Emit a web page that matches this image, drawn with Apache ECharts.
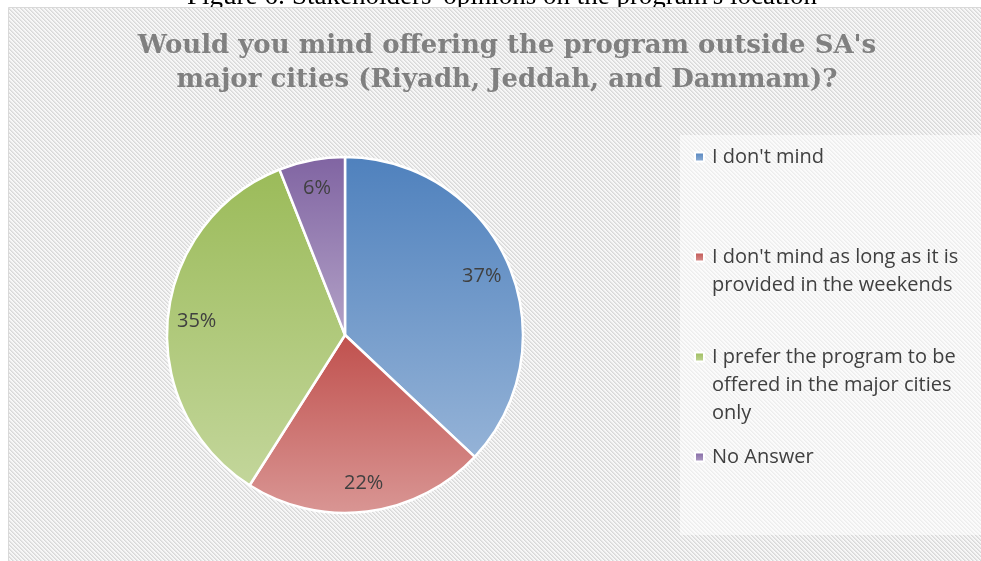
<!DOCTYPE html>
<html lang="en">
<head>
    <meta charset="UTF-8">
    <title>Program location</title>
    <style>
        html, body {
            margin: 0;
            padding: 0;
            background: #ffffff;
        }

        #chart {
            width: 981px;
            height: 561px;
        }
    </style>
    <script src="https://cdn.jsdelivr.net/npm/echarts@6/dist/echarts.min.js"></script>
</head>
<body>
    <div id="chart"></div>

    <script>
        // data
        var categories = [
            "I don't mind",
            "I don't mind as long as it is provided in the weekends",
            "I prefer the program to be offered in the major cities only",
            "No Answer"
        ];
        var shares = [37, 22, 35, 6];
        var topColors = ['#4f81bd', '#c0504d', '#9bbb59', '#8064a2'];
        var bottomColors = ['#95b3d7', '#d99694', '#c3d69b', '#b3a2c7'];
        // how many lines each legend entry wraps to
        var legendLines = [1, 2, 3, 1];

        var caption = "Figure 6: Stakeholders' opinions on the program's location";
        var titleText = "Would you mind offering the program outside SA's\nmajor cities (Riyadh, Jeddah, and Dammam)?";

        // small tile for the diagonal hatch fill
        function hatchTile() {
            var c = document.createElement('canvas');
            c.width = 4;
            c.height = 4;
            var ctx = c.getContext('2d');
            var shades = ['#d8d8d8', '#e5e5e5', '#f4f4f4', '#f9f9f9'];
            for (var y = 0; y < 4; y++) {
                for (var x = 0; x < 4; x++) {
                    var k = ((x - y) % 4 + 4) % 4;
                    ctx.fillStyle = shades[k];
                    ctx.fillRect(x, y, 1, 1);
                }
            }
            return c;
        }

        // pad every legend entry to the same 5-line block with its first line in the middle,
        // so the square marker sits next to the first line like in the original
        function legendLabel(name) {
            var n = legendLines[categories.indexOf(name)];
            var tail = '';
            for (var i = n; i < 3; i++) tail += '\n ';
            return ' \n \n' + name + tail;
        }

        var myChart = echarts.init(document.getElementById('chart'));

        var pieData = categories.map(function (name, i) {
            return {
                name: name,
                value: shares[i],
                itemStyle: {
                    color: new echarts.graphic.LinearGradient(0, 0, 0, 1, [
                        { offset: 0, color: topColors[i] },
                        { offset: 1, color: bottomColors[i] }
                    ])
                }
            };
        });

        var labelData = categories.map(function (name, i) {
            return { name: name, value: shares[i] };
        });

        var option = {
            backgroundColor: '#ffffff',
            animation: false,
            graphic: [
                {
                    type: 'text',
                    x: 502,
                    y: 10,
                    z: 0,
                    silent: true,
                    style: {
                        text: caption,
                        font: '27px "Liberation Serif"',
                        fill: '#000000',
                        align: 'center',
                        verticalAlign: 'bottom'
                    }
                },
                {
                    type: 'rect',
                    z: 1,
                    silent: true,
                    shape: { x: 8.5, y: 7.5, width: 990, height: 570 },
                    style: {
                        fill: { image: hatchTile(), repeat: 'repeat' },
                        stroke: '#d9d9d9',
                        lineWidth: 1
                    }
                },
                {
                    type: 'rect',
                    z: 1,
                    silent: true,
                    shape: { x: 680, y: 135, width: 320, height: 400 },
                    style: { fill: 'rgba(255,255,255,0.55)' }
                }
            ],
            title: {
                text: titleText,
                left: 502,
                textAlign: 'center',
                top: 24,
                textStyle: {
                    fontFamily: 'DejaVu Serif',
                    fontWeight: 'bold',
                    fontSize: 26,
                    lineHeight: 34,
                    color: '#808080'
                }
            },
            legend: {
                orient: 'vertical',
                left: 694,
                top: 87,
                padding: 0,
                itemGap: -40,
                itemWidth: 9,
                itemHeight: 9,
                icon: 'rect',
                selectedMode: false,
                formatter: legendLabel,
                textStyle: {
                    fontFamily: 'Open Sans',
                    fontSize: 20,
                    lineHeight: 28,
                    color: '#404040',
                    width: 255,
                    overflow: 'break',
                    padding: [0, 0, 0, 3]
                }
            },
            series: [
                {
                    type: 'pie',
                    center: [345, 335],
                    radius: [0, 178],
                    startAngle: 90,
                    clockwise: true,
                    silent: true,
                    label: { show: false },
                    labelLine: { show: false },
                    itemStyle: { borderColor: '#ffffff', borderWidth: 2.5 },
                    data: pieData
                },
                {
                    // transparent ring that only carries the percentage labels
                    type: 'pie',
                    center: [345, 335],
                    radius: [114, 178],
                    startAngle: 90,
                    clockwise: true,
                    silent: true,
                    itemStyle: { color: 'transparent', borderWidth: 0 },
                    label: {
                        show: true,
                        position: 'inside',
                        fontFamily: 'Open Sans',
                        fontSize: 20,
                        color: '#404040',
                        formatter: function (p) {
                            return Math.round(p.percent) + '%';
                        }
                    },
                    labelLine: { show: false },
                    data: labelData
                }
            ]
        };

        myChart.setOption(option);
    </script>
</body>
</html>
